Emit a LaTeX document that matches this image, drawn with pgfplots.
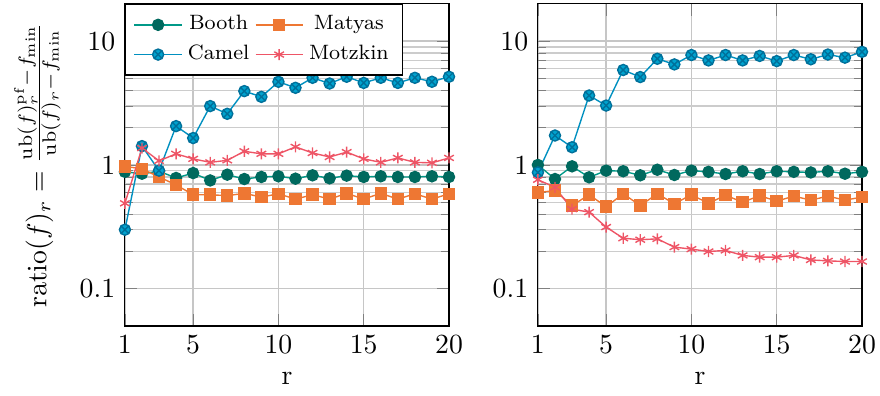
\documentclass[border=0pt]{standalone}
\usepackage{pgfplots}
\pgfplotsset{compat=1.18}
\definecolor{boothline}{HTML}{009988}
\definecolor{boothmark}{HTML}{00695E}
\definecolor{camelline}{HTML}{0090C0}
\definecolor{camelfill}{HTML}{00A3CF}
\definecolor{cameldraw}{HTML}{00709A}
\definecolor{matyascol}{HTML}{EE7733}
\definecolor{motzkincol}{HTML}{EE5566}
\pgfplotsset{
  sbooth/.style={boothline, mark=*, mark options={fill=boothmark, draw=boothmark}},
  scamel/.style={camelline, mark=otimes*, mark options={fill=camelfill, draw=cameldraw}},
  smatyas/.style={matyascol, mark=square*, mark options={fill=matyascol, draw=matyascol}},
  smotzkin/.style={motzkincol, mark=asterisk, mark options={draw=motzkincol}},
}
\begin{document}
\begin{tikzpicture}
\begin{axis}[
  scale only axis, width=117pt, height=116.3pt,
  ymode=log, ymin=0.05, ymax=20,
  xmin=1, xmax=20, xtick={1,5,10,15,20},
  ytick={0.1,1,10}, yticklabels={0.1,1,10},
  grid=both,
  major grid style={gray!45, line width=0.5pt},
  minor grid style={gray!40, line width=0.5pt},
  xlabel={r},
  every axis plot/.append style={line width=0.5pt},
  ylabel={$\mathrm{ratio}(f)_r = \frac{\mathrm{ub}(f)^{\mathrm{pf}}_r - f_{\min}}{\mathrm{ub}(f)_r - f_{\min}}$},
  legend columns=2,
  legend style={at={(0,1)}, anchor=north west, draw=black, font=\fontsize{7.5}{9}\selectfont, /tikz/every even column/.append style={column sep=0pt}},
]
\addplot[sbooth] coordinates {(1,0.88)(2,0.85)(3,0.89)(4,0.785)(5,0.86)(6,0.75)(7,0.835)(8,0.77)(9,0.80)(10,0.81)(11,0.775)(12,0.825)(13,0.78)(14,0.82)(15,0.80)(16,0.81)(17,0.80)(18,0.80)(19,0.81)(20,0.80)};
\addlegendentry{Booth}
\addplot[smatyas] coordinates {(1,0.975)(2,0.93)(3,0.80)(4,0.69)(5,0.575)(6,0.575)(7,0.565)(8,0.59)(9,0.55)(10,0.585)(11,0.53)(12,0.575)(13,0.53)(14,0.59)(15,0.53)(16,0.59)(17,0.53)(18,0.585)(19,0.53)(20,0.585)};
\addlegendentry{Matyas}
\addplot[scamel] coordinates {(1,0.30)(2,1.42)(3,0.90)(4,2.06)(5,1.65)(6,2.99)(7,2.59)(8,3.95)(9,3.55)(10,4.70)(11,4.2)(12,5.06)(13,4.55)(14,5.16)(15,4.6)(16,5.06)(17,4.6)(18,5.06)(19,4.7)(20,5.16)};
\addlegendentry{Camel}
\addplot[smotzkin] coordinates {(1,0.49)(2,1.37)(3,1.08)(4,1.23)(5,1.12)(6,1.05)(7,1.09)(8,1.29)(9,1.23)(10,1.23)(11,1.40)(12,1.25)(13,1.16)(14,1.27)(15,1.12)(16,1.05)(17,1.14)(18,1.05)(19,1.04)(20,1.14)};
\addlegendentry{Motzkin}
\end{axis}
\begin{axis}[
  at={(149.1pt,0)},
  scale only axis, width=117pt, height=116.3pt,
  ymode=log, ymin=0.05, ymax=20,
  xmin=1, xmax=20, xtick={1,5,10,15,20},
  ytick={0.1,1,10}, yticklabels={0.1,1,10},
  grid=both,
  major grid style={gray!45, line width=0.5pt},
  minor grid style={gray!40, line width=0.5pt},
  xlabel={r},
  every axis plot/.append style={line width=0.5pt},
]
\addplot[sbooth] coordinates {(1,1.0)(2,0.77)(3,0.975)(4,0.795)(5,0.90)(6,0.89)(7,0.825)(8,0.915)(9,0.83)(10,0.90)(11,0.88)(12,0.845)(13,0.89)(14,0.845)(15,0.89)(16,0.88)(17,0.87)(18,0.89)(19,0.85)(20,0.88)};
\addplot[smatyas] coordinates {(1,0.60)(2,0.62)(3,0.47)(4,0.575)(5,0.46)(6,0.585)(7,0.47)(8,0.585)(9,0.486)(10,0.575)(11,0.49)(12,0.57)(13,0.50)(14,0.565)(15,0.51)(16,0.56)(17,0.52)(18,0.56)(19,0.52)(20,0.55)};
\addplot[scamel] coordinates {(1,0.87)(2,1.73)(3,1.39)(4,3.64)(5,3.02)(6,5.85)(7,5.13)(8,7.21)(9,6.49)(10,7.73)(11,6.99)(12,7.73)(13,6.99)(14,7.6)(15,6.9)(16,7.73)(17,7.14)(18,7.8)(19,7.36)(20,8.2)};
\addplot[smotzkin] coordinates {(1,0.76)(2,0.66)(3,0.44)(4,0.416)(5,0.315)(6,0.256)(7,0.249)(8,0.253)(9,0.217)(10,0.209)(11,0.20)(12,0.204)(13,0.186)(14,0.18)(15,0.18)(16,0.186)(17,0.171)(18,0.168)(19,0.166)(20,0.166)};
\end{axis}
\pgfresetboundingbox
\useasboundingbox (-45.1pt,-24.9pt) rectangle (272.6pt,117.7pt);
\end{tikzpicture}
\end{document}
